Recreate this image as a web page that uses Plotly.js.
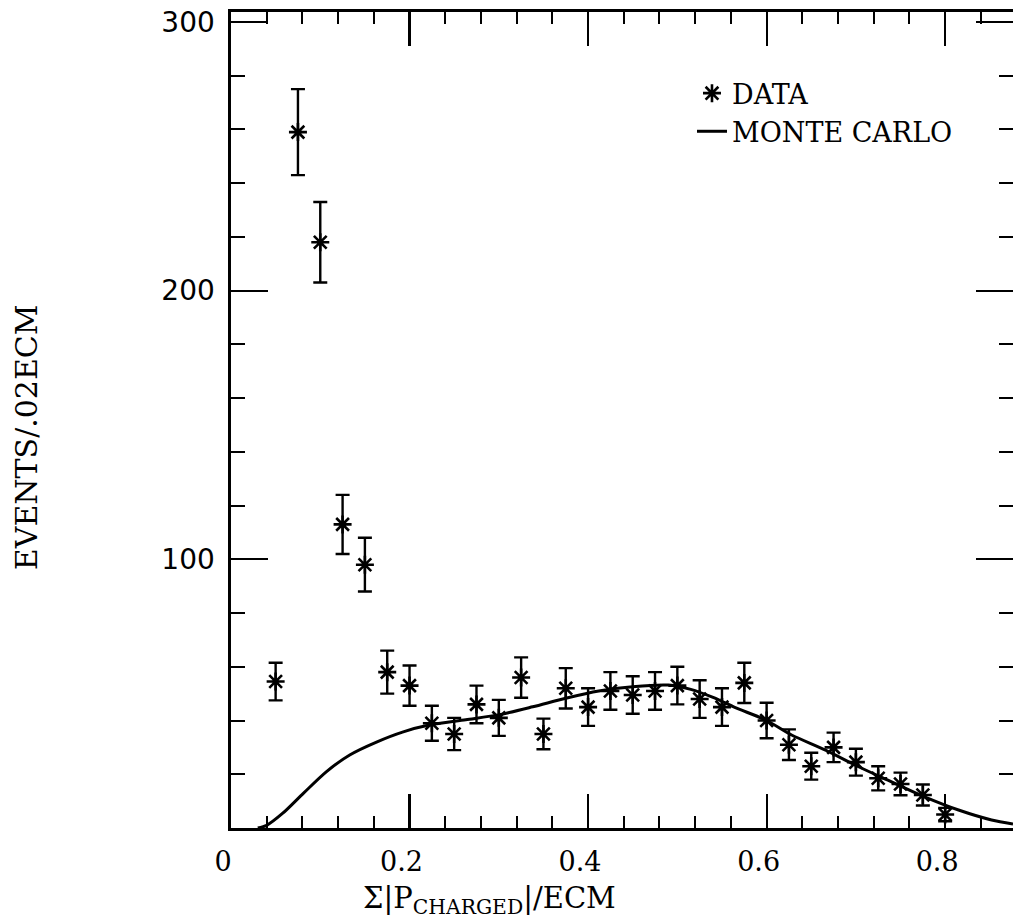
<!DOCTYPE html>
<html>
<head>
<meta charset="utf-8">
<script src="https://cdn.plot.ly/plotly-3.0.1.min.js"></script>
<style>html,body{margin:0;padding:0;background:#fff;}#chart{width:1013px;height:922px;}</style>
</head>
<body>
<div id="chart"></div>
<script>
// Data points (asterisks with error bars)
const dataX = [0.05, 0.075, 0.10, 0.125, 0.15, 0.175, 0.20, 0.225, 0.25, 0.275, 0.30, 0.325, 0.35, 0.375, 0.40, 0.425, 0.45, 0.475, 0.50, 0.525, 0.55, 0.575, 0.60, 0.625, 0.65, 0.675, 0.70, 0.725, 0.75, 0.775, 0.80];
const dataY = [54.5, 259, 218, 113, 98, 58, 53, 39, 35, 46, 41, 56, 35, 52, 45, 51, 49.5, 51, 53, 48, 45, 54, 40, 31, 23, 30, 24.5, 18.5, 16.4, 12.3, 5];
const dataErr = [7, 16, 15, 11, 10, 8, 7.5, 6.5, 6, 7, 6.7, 7.5, 5.7, 7.5, 7, 7, 7, 7, 7, 7, 7, 7.5, 6.6, 5.7, 5, 5.5, 5, 4.5, 4.2, 3.9, 2.5];

// Monte Carlo curve
const mcX = [0.03, 0.04, 0.058, 0.081, 0.107, 0.133, 0.163, 0.193, 0.222, 0.263, 0.301, 0.338, 0.375, 0.412, 0.45, 0.49, 0.515, 0.54, 0.565, 0.599, 0.628, 0.666, 0.703, 0.740, 0.777, 0.815, 0.852, 0.876];
const mcY = [0, 1, 5.5, 12.9, 21, 27.2, 32, 35.8, 38.3, 40.3, 42.2, 45.1, 48.3, 51, 52.6, 53.2, 51.6, 48.6, 44.8, 40.2, 34.6, 29, 22.8, 17.2, 11.6, 6.7, 3, 1.5];

// Tick labels and titles
const xTickVals = [0, 0.2, 0.4, 0.6, 0.8];
const xTickText = ['0', '0.2', '0.4', '0.6', '0.8'];
const yTickVals = [100, 200, 300];
const yTickText = ['100', '200', '300'];
const xTitle = 'Σ|P<sub>CHARGED</sub>|/ECM';
const yTitle = 'EVENTS/.02ECM';

const traces = [
  {
    x: dataX, y: dataY, type: 'scatter', mode: 'markers', name: 'DATA',
    marker: {symbol: 'asterisk-open', size: 15, color: '#000', line: {color: '#000', width: 2.6}},
    error_y: {type: 'data', array: dataErr, visible: true, color: '#000', thickness: 2.4, width: 7}
  },
  {
    x: mcX, y: mcY, type: 'scatter', mode: 'lines', name: 'MONTE CARLO',
    line: {color: '#000', width: 3, shape: 'spline', smoothing: 0.8}
  }
];

const layout = {
  width: 1013, height: 922,
  paper_bgcolor: '#fff', plot_bgcolor: '#fff',
  margin: {l: 231, r: 0, t: 12, b: 94},
  showlegend: true,
  legend: {
    x: 0.5895, y: 0.93, xanchor: 'left', yanchor: 'top',
    bgcolor: 'rgba(0,0,0,0)', borderwidth: 0,
    font: {family: 'DejaVu Serif', size: 27, color: '#000'},
    tracegroupgap: 0
  },
  xaxis: {
    range: [0, 0.876], showgrid: false, zeroline: false,
    showline: true, linecolor: '#000', linewidth: 2.6, mirror: 'ticks',
    ticks: 'inside', ticklen: 34, tickwidth: 2.2, tickcolor: '#000',
    tickmode: 'array', tickvals: xTickVals, ticktext: xTickText,
    tickfont: {family: 'DejaVu Serif', size: 27, color: '#000'},
    ticklabelstandoff: 8, ticklabelshift: -8,
    minor: {dtick: 0.04, tick0: 0, ticks: 'inside', ticklen: 12, tickwidth: 2, tickcolor: '#000', showgrid: false}
  },
  yaxis: {
    range: [0, 303.7], showgrid: false, zeroline: false,
    showline: true, linecolor: '#000', linewidth: 2.6, mirror: 'ticks',
    ticks: 'inside', ticklen: 37, tickwidth: 2.2, tickcolor: '#000',
    tickmode: 'array', tickvals: yTickVals, ticktext: yTickText,
    tickfont: {family: 'DejaVu Sans', size: 28, color: '#000'},
    ticklabelstandoff: 8,
    minor: {dtick: 20, tick0: 0, ticks: 'inside', ticklen: 14, tickwidth: 2, tickcolor: '#000', showgrid: false}
  },
  annotations: [
    {text: xTitle, xref: 'paper', yref: 'paper', x: 0.33, y: 0, xanchor: 'center', yanchor: 'middle',
     yshift: -72, showarrow: false, font: {family: 'DejaVu Serif', size: 29, color: '#000'}},
    {text: yTitle, xref: 'paper', yref: 'paper', x: 0, y: 0.479, xanchor: 'center', yanchor: 'middle',
     xshift: -205, textangle: -90, showarrow: false, font: {family: 'DejaVu Serif', size: 30, color: '#000'}}
  ]
};

Plotly.newPlot('chart', traces, layout, {displayModeBar: false, staticPlot: true});
</script>
</body>
</html>
